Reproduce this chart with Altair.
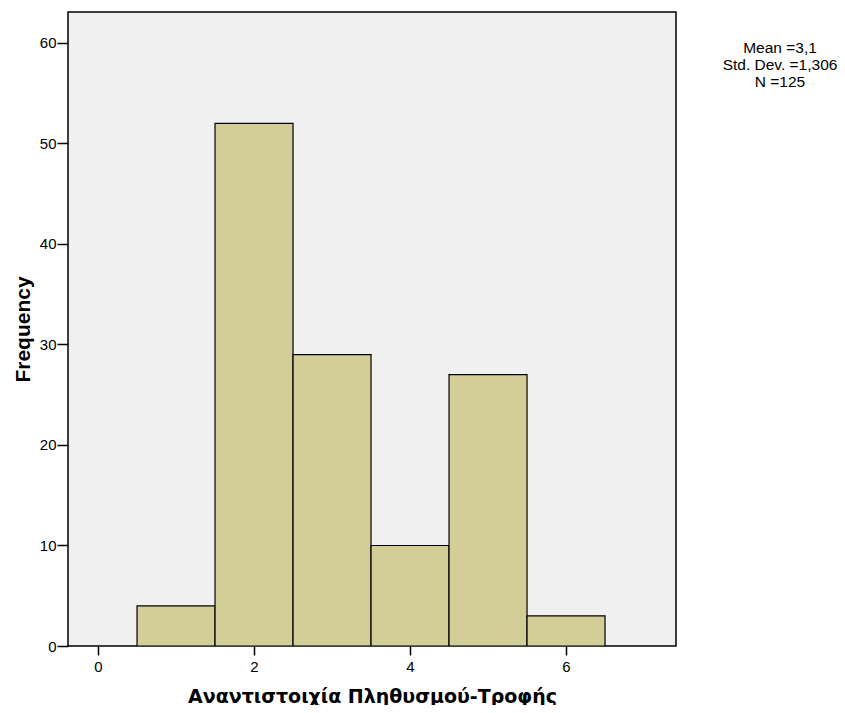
import altair as alt
import pandas as pd

# Histogram data
bin_centers = [1, 2, 3, 4, 5, 6]
frequencies = [4, 52, 29, 10, 27, 3]

stat_lines = ["Mean =3,1", "Std. Dev. =1,306", "N =125"]
stat_y = [41, 58, 75]  # baseline offsets of the stats text lines

x_ticks = [0, 2, 4, 6]
y_ticks = [0, 10, 20, 30, 40, 50, 60]

FONT = "Liberation Sans"

df = pd.DataFrame({
    "start": [c - 0.5 for c in bin_centers],
    "end": [c + 0.5 for c in bin_centers],
    "freq": frequencies,
    "zero": [0] * len(bin_centers),
})
stats = pd.DataFrame({"label": stat_lines, "ypos": stat_y})

x_scale = alt.Scale(domain=[-0.385, 7.41], nice=False, zero=False)
y_scale = alt.Scale(domain=[0, 63.08], nice=False)

bars = alt.Chart(df).mark_rect(
    color="#D3CE97", stroke="#000000", strokeWidth=1.2, clip=True
).encode(
    x=alt.X("start:Q", scale=x_scale,
            axis=alt.Axis(values=x_ticks, title="Αναντιστοιχία Πληθυσμού-Τροφής",
                          grid=False, domain=False, tickSize=9, tickColor="#000",
                          tickWidth=1.5, labelFontSize=15, labelColor="#000",
                          labelFont=FONT, labelPadding=4, labelFlush=False,
                          titleFont="DejaVu Sans", titleFontSize=19,
                          titleFontWeight="bold", titleColor="#000",
                          titleY=56, titleBaseline="alphabetic", titleX=304,
                          format="d")),
    x2="end:Q",
    y=alt.Y("freq:Q", scale=y_scale,
            axis=alt.Axis(values=y_ticks, title="Frequency", grid=False,
                          domain=False, tickSize=11, tickColor="#000",
                          tickWidth=1.5, labelFontSize=15, labelColor="#000",
                          labelFont=FONT, labelPadding=1, labelFlush=False,
                          titleFont=FONT, titleFontSize=21, titleFontWeight="bold",
                          titleColor="#000", titleAngle=-90, titleX=-39,
                          titleY=317, titleBaseline="alphabetic",
                          titleAlign="center", format="d")),
    y2="zero:Q",
)

text = alt.Chart(stats).mark_text(
    font=FONT, fontSize=15.5, color="#000", align="center", baseline="alphabetic"
).encode(
    x=alt.value(712),
    y=alt.Y("ypos:Q", scale=None),
    text="label:N",
)

chart = alt.layer(bars, text).properties(
    width=608,
    height=634,
    autosize=alt.AutoSizeParams(type="none"),
    padding={"left": 60, "top": 4, "right": 161, "bottom": 59},
    background="#FFFFFF",
).configure_view(
    fill="#F0F0F0", stroke="#000000", strokeWidth=1.5
)

chart.save("out.html", embed_options={"renderer": "svg", "actions": False})
